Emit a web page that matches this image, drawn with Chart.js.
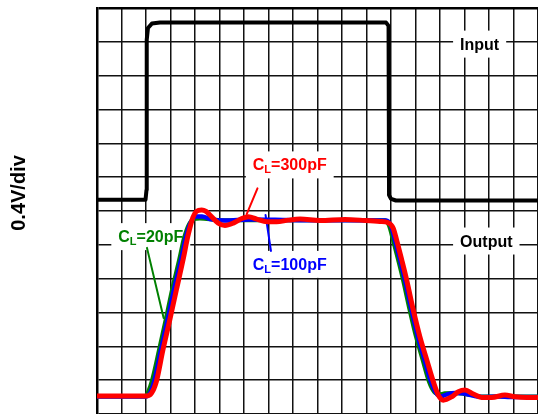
<!DOCTYPE html>
<html>
<head>
<meta charset="utf-8">
<script src="https://cdn.jsdelivr.net/npm/chart.js@4.4.1/dist/chart.umd.min.js"></script>
<style>
  html, body { margin: 0; padding: 0; background: #fff; }
  #wrap { width: 538px; height: 414px; }
</style>
</head>
<body>
<div id="wrap"><canvas id="scope" width="538" height="414"></canvas></div>
<script>
// x = time in divisions (18 across), y = divisions of 0.4V (12 high)
const inputT = [0, 1.98, 2.02, 2.03, 2.08, 2.24, 2.57, 6.24, 11.80, 11.90, 11.92, 12.0, 12.20, 18];
const inputV = [6.33, 6.33, 6.62, 11.06, 11.41, 11.54, 11.57, 11.57, 11.57, 11.47, 6.47, 6.36, 6.31, 6.31];

const cl300T = [0, 2.0, 2.22, 2.42, 2.69, 2.97, 3.24, 3.51, 3.71, 3.92, 4.06, 4.27, 4.45, 4.61, 4.95, 5.22, 5.56, 5.91, 6.18, 6.52, 6.93, 7.33, 7.81, 8.29, 9.10, 10.12, 10.94, 11.55, 11.89, 12.09, 12.23, 12.44, 12.64, 12.91, 13.18, 13.46, 13.73, 13.93, 14.13, 14.48, 14.75, 15.02, 15.36, 15.70, 16.11, 16.65, 17.06, 17.54, 18];
const cl300V = [0.53, 0.53, 0.61, 0.95, 1.89, 2.78, 3.67, 4.55, 5.26, 5.82, 5.99, 6.03, 5.99, 5.88, 5.64, 5.57, 5.64, 5.78, 5.83, 5.76, 5.68, 5.68, 5.73, 5.76, 5.72, 5.75, 5.72, 5.69, 5.65, 5.49, 5.14, 4.55, 3.96, 3.07, 2.28, 1.60, 0.95, 0.56, 0.41, 0.51, 0.66, 0.71, 0.59, 0.49, 0.49, 0.56, 0.51, 0.49, 0.49];

const cl100T = [0, 1.98, 2.16, 2.33, 2.61, 2.88, 3.14, 3.43, 3.63, 3.84, 4.04, 4.29, 4.61, 5.22, 6.24, 8.29, 10.33, 11.80, 12.0, 12.16, 12.37, 12.57, 12.84, 13.10, 13.37, 13.63, 13.84, 14.04, 14.29, 14.61, 14.94, 15.31, 15.71, 16.45, 16.86, 18];
const cl100V = [0.52, 0.52, 0.62, 0.95, 1.89, 2.78, 3.67, 4.55, 5.23, 5.68, 5.84, 5.84, 5.76, 5.72, 5.75, 5.73, 5.73, 5.72, 5.56, 5.14, 4.55, 3.96, 3.07, 2.28, 1.60, 0.95, 0.62, 0.52, 0.58, 0.62, 0.61, 0.55, 0.50, 0.52, 0.50, 0.50];

const cl20T = [0, 1.94, 2.08, 2.24, 2.53, 2.80, 3.06, 3.35, 3.55, 3.76, 3.96, 4.20, 5.02, 11.76, 11.92, 12.08, 12.29, 12.49, 12.76, 13.02, 13.29, 13.55, 13.76, 13.96, 14.20, 14.61, 15.02, 15.63, 18];
const cl20V = [0.52, 0.52, 0.65, 0.98, 1.89, 2.78, 3.67, 4.55, 5.20, 5.62, 5.76, 5.78, 5.73, 5.73, 5.56, 5.14, 4.55, 3.96, 3.07, 2.28, 1.60, 0.95, 0.65, 0.58, 0.61, 0.62, 0.59, 0.52, 0.52];

// leader lines from the labels to their traces
const lead300T = [6.55, 6.11];
const lead300V = [6.67, 5.91];
const lead100T = [6.88, 7.10];
const lead100V = [5.88, 4.82];
const lead20T = [2.04, 2.72];
const lead20V = [4.91, 2.84];

const labelText = ['Input', 'Output', 'C|L|=300pF', 'C|L|=100pF', 'C|L|=20pF'];
const labelT = [14.82, 14.82, 6.36, 6.36, 0.87];
const labelV = [10.77, 4.95, 7.20, 4.26, 5.08];
const labelColor = ['#000', '#000', '#ff0000', '#0000ff', '#008000'];

const pts = (t, v) => t.map((x, i) => ({ x: x, y: v[i] }));

const FONT = "'Liberation Sans', Arial, sans-serif";

const scopeText = {
  id: 'scopeText',
  beforeDatasetsDraw(chart) {
    const ctx = chart.ctx;
    const xs = chart.scales.x, ys = chart.scales.y;
    ctx.save();
    ctx.textBaseline = 'alphabetic';
    labelText.forEach((txt, i) => {
      const parts = txt.split('|');
      const big = 'bold 16px ' + FONT, small = 'bold 11px ' + FONT;
      let w = 0;
      parts.forEach((p, k) => {
        ctx.font = k === 1 ? small : big;
        w += ctx.measureText(p).width;
      });
      const x0 = xs.getPixelForValue(labelT[i]);
      const y0 = ys.getPixelForValue(labelV[i]);
      ctx.fillStyle = '#fff';
      ctx.fillRect(x0 - 7, y0 - 19, w + 14, 27);
      ctx.fillStyle = labelColor[i];
      let x = x0;
      parts.forEach((p, k) => {
        ctx.font = k === 1 ? small : big;
        ctx.fillText(p, x, k === 1 ? y0 + 3 : y0);
        x += ctx.measureText(p).width;
      });
    });
    ctx.restore();
  },
  afterDraw(chart) {
    const ctx = chart.ctx;
    ctx.save();
    ctx.translate(19, 193);
    ctx.rotate(-Math.PI / 2);
    ctx.font = 'bold 20px ' + FONT;
    ctx.fillStyle = '#000';
    ctx.textAlign = 'center';
    ctx.textBaseline = 'middle';
    ctx.fillText('0.4V/div', 0, 0);
    ctx.restore();
  }
};

const trace = (label, data, color, width, mode) => ({
  label: label,
  data: data,
  borderColor: color,
  borderWidth: width,
  pointRadius: 0,
  fill: false,
  tension: mode ? 0.3 : 0,
  cubicInterpolationMode: mode ? 'monotone' : 'default',
  borderCapStyle: 'round',
  borderJoinStyle: 'round'
});

new Chart(document.getElementById('scope'), {
  type: 'line',
  data: {
    datasets: [
      trace('CL=300pF', pts(cl300T, cl300V), '#ff0000', 5, true),
      trace('CL=100pF', pts(cl100T, cl100V), '#0000ff', 4.5, true),
      trace('CL=20pF', pts(cl20T, cl20V), '#008000', 4, true),
      trace('Input', pts(inputT, inputV), '#000000', 4, false),
      trace('lead300', pts(lead300T, lead300V), '#ff0000', 2, false),
      trace('lead100', pts(lead100T, lead100V), '#0000ff', 2, false),
      trace('lead20', pts(lead20T, lead20V), '#008000', 2, false)
    ]
  },
  options: {
    responsive: false,
    animation: false,
    devicePixelRatio: 1,
    layout: { padding: { left: 97, top: 8, right: 0, bottom: 0 } },
    plugins: {
      legend: { display: false },
      tooltip: { enabled: false }
    },
    scales: {
      x: {
        type: 'linear',
        min: 0,
        max: 18,
        ticks: { display: false, stepSize: 1 },
        grid: { drawTicks: false, color: '#111', lineWidth: 1.5 },
        border: { display: false },
        afterFit: (s) => { s.height = 0; }
      },
      y: {
        min: 0,
        max: 12,
        ticks: { display: false, stepSize: 1 },
        grid: {
          drawTicks: false,
          color: (c) => (c.tick && c.tick.value === 12 ? '#000' : '#111'),
          lineWidth: (c) => (c.tick && c.tick.value === 12 ? 2.5 : 1.5)
        },
        border: { display: true, color: '#000', width: 2.5 },
        afterFit: (s) => { s.width = 0; }
      }
    }
  },
  plugins: [scopeText]
});
</script>
</body>
</html>
